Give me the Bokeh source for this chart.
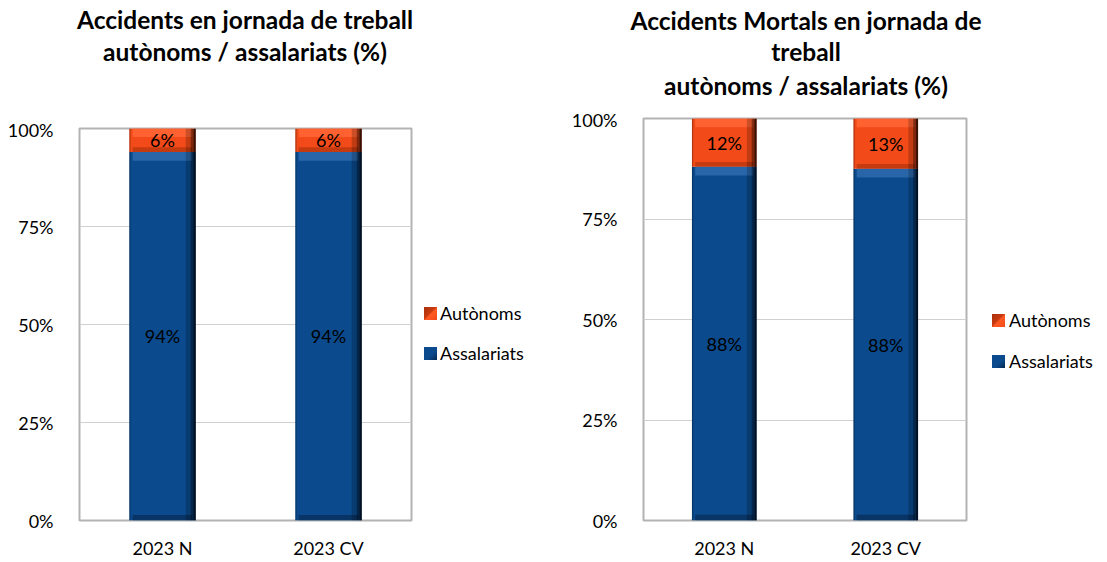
import math
from bokeh.plotting import figure
from bokeh.layouts import row, column
from bokeh.models import (ColumnDataSource, FactorRange, Range1d, FixedTicker,
                          PrintfTickFormatter, LabelSet, Div)
from bokeh.core.properties import value
from bokeh.transform import dodge
from bokeh.embed import file_html
from bokeh.resources import INLINE

categories = ["2023 N", "2023 CV"]
left_assalariats = [94, 94]
left_autonoms = [6, 6]
right_assalariats = [88, 87.5]
right_autonoms = [12, 12.5]
series_names = ["Autònoms", "Assalariats"]
y_ticks = [0, 25, 50, 75, 100]
left_title = ["Accidents en jornada de treball", "autònoms / assalariats (%)"]
right_title = ["Accidents Mortals en jornada de", "treball", "autònoms / assalariats (%)"]

FONT = "Lato"
BLUE = "#0b4a8c"
BLUE_LIGHT = "#2f6db0"
BLUE_DARK = "#06284d"
ORANGE = "#f24a18"
ORANGE_LIGHT = "#ff6230"
ORANGE_DARK = "#a8300c"
LEGEND_SWATCH = {
    "Autònoms": "linear-gradient(135deg, #a8300c 0%, #c83a10 45%, #ff5a22 55%, #f24a18 100%)",
    "Assalariats": "linear-gradient(135deg, #0b4a8c 0%, #0b4a8c 60%, #06284d 100%)",
}


def pct(v):
    return "%d%%" % math.floor(v + 0.5)


def title_div(lines, centers, width, height, x_center):
    parts = []
    for txt, c in zip(lines, centers):
        parts.append(
            '<div style="position:absolute;left:0;top:%dpx;width:%dpx;height:30px;'
            'line-height:30px;text-align:center;font-family:Lato;font-weight:bold;'
            'font-size:24.5px;color:#000;white-space:nowrap;">%s</div>'
            % (c - 15, 2 * x_center, txt))
    html = ('<div style="position:relative;width:%dpx;height:%dpx;">%s</div>'
            % (width, height, "".join(parts)))
    return Div(text=html, width=width, height=height, margin=(0, 0, 0, 0))


def legend_div(names, centers, sq_left, txt_left, width, height):
    parts = []
    for name, c in zip(names, centers):
        parts.append(
            '<div style="position:absolute;left:%dpx;top:%dpx;width:13px;height:13px;'
            'background:%s;"></div>' % (sq_left, c - 6, LEGEND_SWATCH[name]))
        parts.append(
            '<div style="position:absolute;left:%dpx;top:%dpx;height:24px;line-height:24px;'
            'font-family:Lato;font-size:18px;color:#000;white-space:nowrap;">%s</div>'
            % (txt_left, c - 12, name))
    html = ('<div style="position:relative;width:%dpx;height:%dpx;">%s</div>'
            % (width, height, "".join(parts)))
    return Div(text=html, width=width, height=height, margin=(0, 0, 0, 0))


def make_chart(ass, aut, frame_w, frame_h, b_left, b_right, b_top, b_bottom):
    p = figure(x_range=FactorRange(*categories), y_range=Range1d(0, 100),
               frame_width=frame_w, frame_height=frame_h, title=None,
               output_backend="svg", toolbar_location=None,
               min_border_left=b_left, min_border_right=b_right,
               min_border_top=b_top, min_border_bottom=b_bottom,
               margin=(0, 0, 0, 0))
    tops = [a + b for a, b in zip(ass, aut)]
    src = ColumnDataSource(dict(
        cat=categories, ass=ass, aut=aut, top=tops,
        ass_hl=[a - 2.2 for a in ass], top_hl=[t - 2.2 for t in tops],
        ass_lo=[1.4 for a in ass], aut_lo=[a + 1.2 for a in ass],
        ass_mid=[a / 2 for a in ass], aut_mid=[a + b / 2 for a, b in zip(ass, aut)],
        ass_lab=[pct(a) for a in ass], aut_lab=[pct(b) for b in aut],
    ))
    w = 0.4
    p.vbar(x="cat", bottom=0, top="ass", width=w, source=src,
           fill_color=BLUE, line_color=None)
    p.vbar(x="cat", bottom="ass", top="top", width=w, source=src,
           fill_color=ORANGE, line_color=None)
    # bevel: highlights at top, shadow at bottom and right edge
    p.vbar(x="cat", bottom="ass_hl", top="ass", width=w * 0.9, source=src,
           fill_color=BLUE_LIGHT, fill_alpha=0.8, line_color=None)
    p.vbar(x="cat", bottom="top_hl", top="top", width=w * 0.9, source=src,
           fill_color=ORANGE_LIGHT, line_color=None)
    p.vbar(x="cat", bottom=0, top="ass_lo", width=w * 0.9, source=src,
           fill_color=BLUE_DARK, fill_alpha=0.6, line_color=None)
    p.vbar(x="cat", bottom="ass", top="aut_lo", width=w * 0.9, source=src,
           fill_color=ORANGE_DARK, fill_alpha=0.6, line_color=None)
    for off, ww, al in [(w / 2 - 0.03, 0.06, 0.2), (w / 2 - 0.015, 0.03, 0.35),
                        (w / 2 - 0.006, 0.012, 0.55)]:
        p.vbar(x=dodge("cat", off, range=p.x_range), bottom=0, top="top", width=ww,
               source=src, fill_color="black", fill_alpha=al, line_color=None)
    p.vbar(x=dodge("cat", -w / 2 + 0.004, range=p.x_range), bottom=0, top="top",
           width=0.008, source=src, fill_color="black", fill_alpha=0.25, line_color=None)

    for col, ycol in [("ass_lab", "ass_mid"), ("aut_lab", "aut_mid")]:
        p.add_layout(LabelSet(x="cat", y=ycol, text=col, source=src,
                              text_align="center", text_baseline="middle",
                              text_font=value(FONT), text_font_size="18px",
                              text_color="black"))

    p.xgrid.grid_line_color = None
    p.ygrid.grid_line_color = "#d0d0d0"
    p.ygrid.grid_line_width = 1
    p.yaxis.ticker = FixedTicker(ticks=y_ticks)
    p.yaxis.formatter = PrintfTickFormatter(format="%d%%")
    for ax in (p.xaxis, p.yaxis):
        ax.axis_line_color = None
        ax.major_tick_line_color = None
        ax.minor_tick_line_color = None
        ax.major_label_text_font = FONT
        ax.major_label_text_font_size = "18px"
        ax.major_label_text_color = "black"
    p.yaxis.major_label_standoff = 20
    p.xaxis.major_label_standoff = 10
    p.outline_line_color = "#b3b3b3"
    p.outline_line_width = 2
    return p


# left chart: frame x 79..411, y 128..520
p1 = make_chart(left_assalariats, left_autonoms, 332, 392, 79, 5, 10, 40)
l1 = legend_div(series_names, [195, 235], 8, 24, 132, 442)
d1 = title_div(left_title, [20, 52], 548, 118, 245)

# right chart: frame x 643..966, y 118..520
p2 = make_chart(right_assalariats, right_autonoms, 323, 402, 95, 5, 10, 40)
l2 = legend_div(series_names, [212, 253], 21, 38, 134, 452)
d2 = title_div(right_title, [21, 52, 86], 557, 108, 806 - 548)

left = column(d1, row(p1, l1, spacing=0), spacing=0)
right = column(d2, row(p2, l2, spacing=0), spacing=0)
layout = row(left, right, spacing=0)
open("out.html", "w").write(file_html(layout, INLINE))
